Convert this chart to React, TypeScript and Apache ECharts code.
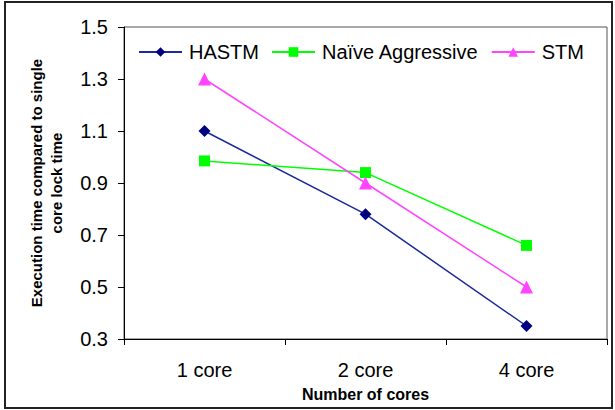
import React, { useEffect, useRef } from "react";
import * as echarts from "echarts";

// Execution time (relative to single-core lock time) per core count
const categories = ["1 core", "2 core", "4 core"];
const hastm = [1.1, 0.78, 0.35];
const naiveAggressive = [0.985, 0.94, 0.66];
const stm = [1.3, 0.9, 0.5];
const yTicks = [0.3, 0.5, 0.7, 0.9, 1.1, 1.3, 1.5];

const FONT = "'Liberation Sans', Arial, sans-serif";

export default function App() {
  const ref = useRef<HTMLDivElement>(null);

  useEffect(() => {
    if (!ref.current) return;
    const chart = echarts.init(ref.current, null, { renderer: "svg" });
    chart.setOption({
      animation: false,
      backgroundColor: "#fff",
      textStyle: { fontFamily: FONT },
      graphic: [
        {
          type: "rect",
          shape: { x: 5, y: 2, width: 607, height: 406 },
          style: { fill: "none", stroke: "#222", lineWidth: 2 },
          silent: true,
        },
      ],
      grid: {
        left: 124,
        right: 8,
        top: 27,
        bottom: 71,
        show: true,
        borderColor: "#555",
        borderWidth: 1,
      },
      legend: {
        left: 133,
        top: 37,
        itemWidth: 43,
        itemHeight: 12,
        itemGap: 12,
        textStyle: { fontSize: 20, color: "#000", fontFamily: FONT, padding: [0, 0, 0, 2] },
        data: ["HASTM", "Naïve Aggressive", "STM"],
      },
      xAxis: {
        type: "category",
        data: categories,
        boundaryGap: true,
        axisLine: { lineStyle: { color: "#000", width: 1 } },
        axisTick: { show: true, length: 6, inside: false, lineStyle: { color: "#000" } },
        axisLabel: { fontSize: 20, color: "#000", margin: 21, fontFamily: FONT },
        name: "Number of cores",
        nameLocation: "middle",
        nameGap: 47,
        nameTextStyle: { fontSize: 16, fontWeight: "bold", color: "#000", fontFamily: FONT },
      },
      yAxis: {
        type: "value",
        min: 0.3,
        max: 1.5,
        splitLine: { show: false },
        axisLine: { show: true, lineStyle: { color: "#000", width: 1 } },
        axisTick: { show: true, length: 6, customValues: yTicks, lineStyle: { color: "#000" } },
        axisLabel: {
          fontSize: 20,
          color: "#000",
          margin: 16,
          fontFamily: FONT,
          customValues: yTicks,
          formatter: (v: number) => v.toFixed(1),
        },
        name: "Execution time compared to single\ncore lock time",
        nameLocation: "middle",
        nameRotate: 90,
        nameGap: 58,
        nameTextStyle: {
          fontSize: 15,
          fontWeight: "bold",
          color: "#000",
          fontFamily: FONT,
          lineHeight: 20,
          align: "center",
        },
      },
      series: [
        {
          name: "HASTM",
          type: "line",
          data: hastm,
          symbol: "diamond",
          symbolSize: 12,
          lineStyle: { color: "#1a2a9a", width: 1.5 },
          itemStyle: { color: "#000080" },
        },
        {
          name: "Naïve Aggressive",
          type: "line",
          data: naiveAggressive,
          symbol: "rect",
          symbolSize: 11,
          lineStyle: { color: "#00ff00", width: 1.5 },
          itemStyle: { color: "#00ff00" },
        },
        {
          name: "STM",
          type: "line",
          data: stm,
          symbol: "triangle",
          symbolSize: 13,
          lineStyle: { color: "#ff44ff", width: 1.5 },
          itemStyle: { color: "#ff44ff" },
        },
      ],
    });
    return () => chart.dispose();
  }, []);

  return (
    <div
      ref={ref}
      style={{ position: "fixed", left: 0, top: 0, width: 615, height: 410 }}
    />
  );
}
